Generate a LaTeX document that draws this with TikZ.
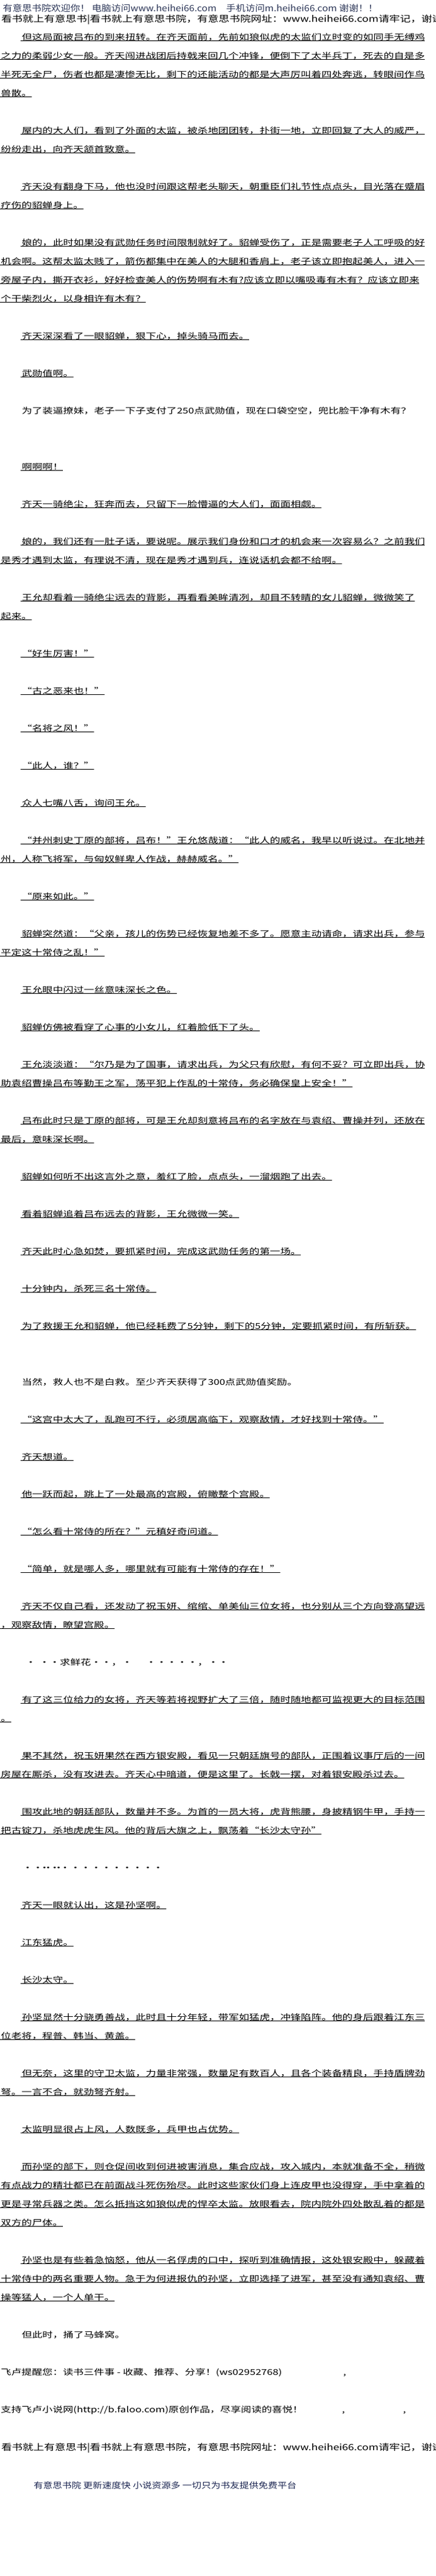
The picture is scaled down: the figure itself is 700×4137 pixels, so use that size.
\documentclass[tikz,border=0pt]{standalone}
\usepackage{fontspec}
\usepackage{graphicx}
\usetikzlibrary{calc}
\newfontfamily\bodyfont[FakeStretch=1.297]{Noto Sans CJK SC}
\newfontfamily\plainfont{Noto Sans CJK SC}
\definecolor{hdcol}{RGB}{45,55,88}
\definecolor{ftcol}{RGB}{28,38,82}
\newcounter{ln}
\newcommand\LQ{\makebox[16.6pt][r]{“}}
\newcommand\RQ{\makebox[16.6pt][l]{”}}
\tikzset{
  txt/.style={anchor=base west, inner sep=0pt, outer sep=0pt, font=\bodyfont\fontsize{12.8}{15}\selectfont, text=black},
  uline/.style={draw=black, line width=0.9pt},
  hdtxt/.style={anchor=base west, inner sep=0pt, outer sep=0pt},
}
% indented first line of a paragraph
\newcommand\IndLine[2]{%
  \stepcounter{ln}%
  \node[txt] (t\theln) at (35,#1+4.5) {#2};%
  \draw[uline] ($(t\theln.base west)+(-2,1.3)$) -- ($(t\theln.base east)+(0,1.3)$);%
}
% indented line with underline running on to x = #2
\newcommand\IndLineX[3]{%
  \stepcounter{ln}%
  \node[txt] (t\theln) at (35,#1+4.5) {#3};%
  \coordinate (e\theln) at (#2,0);%
  \draw[uline] ($(t\theln.base west)+(-2,1.3)$) -- ($(t\theln.base west)+(-2,1.3)$ -| e\theln);%
}
% continuation line (full width)
\newcommand\FulLine[2]{%
  \stepcounter{ln}%
  \node[txt] (t\theln) at (1.5,#1+4.5) {#2};%
  \draw[uline] ($(t\theln.base west)+(-1.5,1.3)$) -- ($(t\theln.base east)+(0,1.3)$);%
}
\newcommand\FulLineX[3]{%
  \stepcounter{ln}%
  \node[txt] (t\theln) at (1.5,#1+4.5) {#3};%
  \coordinate (e\theln) at (#2,0);%
  \draw[uline] ($(t\theln.base west)+(-1.5,1.3)$) -- ($(t\theln.base west)+(-1.5,1.3)$ -| e\theln);%
}
\begin{document}
\begin{tikzpicture}[x=1pt,y=-1pt]
\useasboundingbox (0,0) rectangle (700,4137);
\fill[white] (0,0) rectangle (700,4137);

% header
\node[hdtxt] (h1) at (4.5,18.6) {\resizebox{602pt}{14pt}{\color{hdcol}\plainfont\fontsize{10}{12}\selectfont\rule{0pt}{10pt}有意思书院欢迎你！ 电脑访问www.heihei66.com\quad 手机访问m.heihei66.com 谢谢！！}};
\node[hdtxt] (h2) at (2,35.7) {\resizebox{709pt}{13.9pt}{\plainfont\fontsize{10}{12}\selectfont\rule{0pt}{10pt}看书就上有意思书|看书就上有意思书院，有意思书院网址：www.heihei66.com请牢记，谢谢}};

\IndLine{60}{但这局面被吕布的到来扭转。在齐天面前，先前如狼似虎的太监们立时变的如同手无缚鸡}
\FulLine{90}{之力的柔弱少女一般。齐天闯进战团后持戟来回几个冲锋，便倒下了太半兵丁，死去的自是多}
\FulLine{120}{半死无全尸，伤者也都是凄惨无比，剩下的还能活动的都是大声厉叫着四处奔逃，转眼间作鸟}
\FulLine{150}{兽散。}
\IndLine{210}{屋内的大人们，看到了外面的太监，被杀地团团转，扑街一地，立即回复了大人的威严，}
\FulLine{240}{纷纷走出，向齐天颔首致意。}
\IndLine{300}{齐天没有翻身下马，他也没时间跟这帮老头聊天，朝重臣们礼节性点点头，目光落在蹙眉}
\FulLine{330}{疗伤的貂蝉身上。}
\IndLine{390}{娘的，此时如果没有武勋任务时间限制就好了。貂蝉受伤了，正是需要老子人工呼吸的好}
\FulLine{420}{机会啊。这帮太监太贱了，箭伤都集中在美人的大腿和香肩上，老子该立即抱起美人，进入一}
\FulLine{450}{旁屋子内，撕开衣衫，好好检查美人的伤势啊有木有?应该立即以嘴吸毒有木有？应该立即来}
\FulLine{480}{个干柴烈火，以身相许有木有？}
\IndLine{540}{齐天深深看了一眼貂蝉，狠下心，掉头骑马而去。}
\IndLine{600}{武勋值啊。}
\IndLineX{660}{662}{为了装逼撩妹，老子一下子支付了250点武勋值，现在口袋空空，兜比脸干净有木有？}
\IndLine{750}{啊啊啊！}
\IndLine{810}{齐天一骑绝尘，狂奔而去，只留下一脸懵逼的大人们，面面相觑。}
\IndLine{870}{娘的，我们还有一肚子话，要说呢。展示我们身份和口才的机会来一次容易么？之前我们}
\FulLine{900}{是秀才遇到太监，有理说不清，现在是秀才遇到兵，连说话机会都不给啊。}
\IndLine{960}{王允却看着一骑绝尘远去的背影，再看看美眸清冽，却目不转睛的女儿貂蝉，微微笑了}
\FulLine{990}{起来。}
\IndLine{1050}{\LQ 好生厉害！\RQ}
\IndLine{1110}{\LQ 古之恶来也！\RQ}
\IndLine{1170}{\LQ 名将之风！\RQ}
\IndLine{1230}{\LQ 此人，谁？\RQ}
\IndLine{1290}{众人七嘴八舌，询问王允。}
\IndLine{1350}{\LQ 并州刺史丁原的部将，吕布！\RQ 王允悠哉道：\LQ 此人的威名，我早以听说过。在北地并}
\FulLine{1380}{州，人称飞将军，与匈奴鲜卑人作战，赫赫威名。\RQ}
\IndLine{1440}{\LQ 原来如此。\RQ}
\IndLine{1500}{貂蝉突然道：\LQ 父亲，孩儿的伤势已经恢复地差不多了。愿意主动请命，请求出兵，参与}
\FulLine{1530}{平定这十常侍之乱！\RQ}
\IndLine{1590}{王允眼中闪过一丝意味深长之色。}
\IndLine{1650}{貂蝉仿佛被看穿了心事的小女儿，红着脸低下了头。}
\IndLine{1710}{王允淡淡道：\LQ 尔乃是为了国事，请求出兵，为父只有欣慰，有何不妥？可立即出兵，协}
\FulLine{1740}{助袁绍曹操吕布等勤王之军，荡平犯上作乱的十常侍，务必确保皇上安全！\RQ}
\IndLine{1800}{吕布此时只是丁原的部将，可是王允却刻意将吕布的名字放在与袁绍、曹操并列，还放在}
\FulLine{1830}{最后，意味深长啊。}
\IndLine{1890}{貂蝉如何听不出这言外之意，羞红了脸，点点头，一溜烟跑了出去。}
\IndLine{1950}{看着貂蝉追着吕布远去的背影，王允微微一笑。}
\IndLine{2010}{齐天此时心急如焚，要抓紧时间，完成这武勋任务的第一场。}
\IndLine{2070}{十分钟内，杀死三名十常侍。}
\IndLine{2130}{为了救援王允和貂蝉，他已经耗费了5分钟，剩下的5分钟，定要抓紧时间，有所斩获。}
\IndLineX{2220}{483}{当然，救人也不是白救。至少齐天获得了300点武勋值奖励。}
\IndLine{2280}{\LQ 这宫中太大了，乱跑可不行，必须居高临下，观察敌情，才好找到十常侍。\RQ}
\IndLine{2340}{齐天想道。}
\IndLine{2400}{他一跃而起，跳上了一处最高的宫殿，俯瞰整个宫殿。}
\IndLine{2460}{\LQ 怎么看十常侍的所在？\RQ 元稹好奇问道。}
\IndLine{2520}{\LQ 简单，就是哪人多，哪里就有可能有十常侍的存在！\RQ}
\IndLine{2580}{齐天不仅自己看，还发动了祝玉妍、绾绾、单美仙三位女将，也分别从三个方向登高望远}
\FulLine{2610}{，观察敌情，瞭望宫殿。}
% 求鲜花 line
\node[txt] (d1) at (41,2674.5) {·};
\node[txt] (d2) at (63,2674.5) {··求鲜花··，·\hspace{22pt}·····，··};
\coordinate (d2e) at (339,0);
\draw[uline] ($(d2.base west)+(0,1.3)$) -- ($(d2.base west)+(0,1.3)$ -| d2e);
\IndLine{2730}{有了这三位给力的女将，齐天等若将视野扩大了三倍，随时随地都可监视更大的目标范围}
\FulLine{2760}{。}
\IndLine{2820}{果不其然，祝玉妍果然在西方银安殿，看见一只朝廷旗号的部队，正围着议事厅后的一间}
\FulLine{2850}{房屋在厮杀，没有攻进去。齐天心中暗道，便是这里了。长戟一摆，对着银安殿杀过去。}
\IndLine{2910}{围攻此地的朝廷部队，数量并不多。为首的一员大将，虎背熊腰，身披精钢牛甲，手持一}
\FulLine{2940}{把古锭刀，杀地虎虎生风。他的背后大旗之上，飘荡着\LQ 长沙太守孙\RQ}
% dotted line
\node[txt] (d3) at (36,3004.5) {····};
\node[txt] (d4) at (63,3004.5) {············};
\coordinate (d4e) at (339,0);
\draw[uline] ($(d4.base west)+(0,1.3)$) -- ($(d4.base west)+(0,1.3)$ -| d4e);
\IndLine{3060}{齐天一眼就认出，这是孙坚啊。}
\IndLine{3120}{江东猛虎。}
\IndLine{3180}{长沙太守。}
\IndLine{3240}{孙坚显然十分骁勇善战，此时且十分年轻，带军如猛虎，冲锋陷阵。他的身后跟着江东三}
\FulLine{3270}{位老将，程普、韩当、黄盖。}
\IndLine{3330}{但无奈，这里的守卫太监，力量非常强，数量足有数百人，且各个装备精良，手持盾牌劲}
\FulLine{3360}{弩。一言不合，就劲弩齐射。}
\IndLine{3420}{太监明显很占上风，人数既多，兵甲也占优势。}
\IndLine{3480}{而孙坚的部下，则仓促间收到何进被害消息，集合应战，攻入城内，本就准备不全，稍微}
\FulLine{3510}{有点战力的精壮都已在前面战斗死伤殆尽。此时这些家伙们身上连皮甲也没得穿，手中拿着的}
\FulLine{3540}{更是寻常兵器之类。怎么抵挡这如狼似虎的悍卒太监。放眼看去，院内院外四处散乱着的都是}
\FulLine{3570}{双方的尸体。}
\IndLine{3630}{孙坚也是有些着急恼怒，他从一名俘虏的口中，探听到准确情报，这处银安殿中，躲藏着}
\FulLine{3660}{十常侍中的两名重要人物。急于为何进报仇的孙坚，立即选择了进军，甚至没有通知袁绍、曹}
\FulLine{3690}{操等猛人，一个人单干。}
\IndLineX{3750}{208}{但此时，捅了马蜂窝。}
\FulLineX{3810}{565}{飞卢提醒您：读书三件事 - 收藏、推荐、分享！(ws02952768)}
\node[txt] (c1) at (551,3814.5) {,};
\FulLineX{3870}{650}{支持飞卢小说网(http://b.faloo.com)原创作品，尽享阅读的喜悦！}
\node[txt] (c2) at (549,3874.5) {,};
\node[txt] (c3) at (647,3874.5) {,};
\node[hdtxt] (h3) at (2,3935.7) {\resizebox{709pt}{13.9pt}{\plainfont\fontsize{10}{12}\selectfont\rule{0pt}{10pt}看书就上有意思书|看书就上有意思书院，有意思书院网址：www.heihei66.com请牢记，谢谢}};
\node[hdtxt] (ft) at (54,3996) {\resizebox{422pt}{13pt}{\color{ftcol}\plainfont\fontsize{10}{12}\selectfont\rule{0pt}{10pt}有意思书院 更新速度快 小说资源多 一切只为书友提供免费平台}};
\end{tikzpicture}
\end{document}
